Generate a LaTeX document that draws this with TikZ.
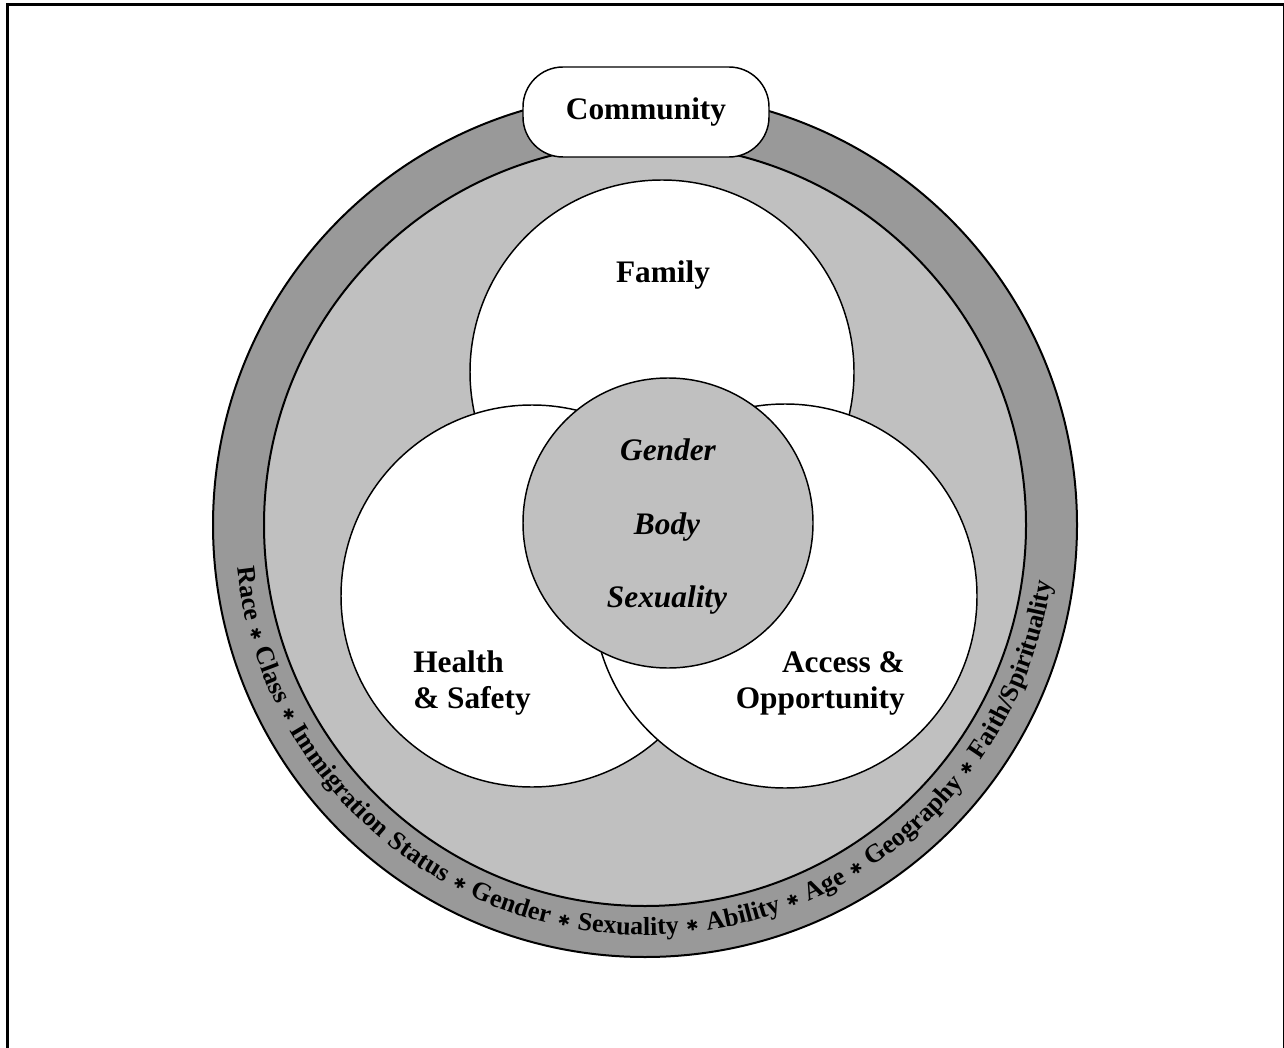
\documentclass[tikz,border=0pt]{standalone}
\usepackage{fontspec}
\setmainfont{Liberation Serif}
\newfontfamily\symfont{DejaVu Sans}
\usetikzlibrary{decorations.text}
\definecolor{ringdark}{RGB}{153,153,153}
\definecolor{ringlight}{RGB}{192,192,192}
\newcommand{\ringfont}{\bfseries\fontsize{19.5}{20}\selectfont}
\newcommand{\ringstar}{\raisebox{1pt}{\symfont\fontsize{11}{11}\selectfont ✱}}
\begin{document}
\begin{tikzpicture}[x=0.75pt,y=0.75pt,
  ringline/.style={line width=1.5pt},
  ringdisc/.style={circle, draw, ringline, inner sep=0pt},
  venn/.style={circle, draw, fill=white, line width=1.1pt, inner sep=0pt},
  lbl/.style={font=\fontsize{23.5}{27}\selectfont\bfseries, inner sep=0pt},
  ilbl/.style={font=\fontsize{23.5}{27}\selectfont\bfseries\itshape, inner sep=0pt},
  combox/.style={draw, fill=white, line width=1.1pt, rounded corners=30pt,
    minimum width=184.5pt, minimum height=67.5pt, inner sep=0pt,
    font=\fontsize{23.5}{27}\selectfont\bfseries}]
\useasboundingbox (0,0) rectangle (1284,-1048);
% frame
\draw[line width=2.25pt] (7.8,-1060) coordinate (fbl) -- (7.8,-5) coordinate (ftl)
  -- (1284.5,-5) coordinate (ftr) -- (1284.5,-1060) coordinate (fbr);
% rings
\coordinate (c) at (645,-525);
\node[ringdisc, fill=ringdark, minimum size=648pt] (outer) at (c) {};
\node[ringdisc, fill=ringlight, minimum size=571.5pt] (inner) at (c) {};
% venn circles
\node[venn, minimum size=288pt] (family) at (662,-372) {};
\node[venn, minimum size=286.5pt] (health) at (532,-596) {};
\node[venn, minimum size=288pt] (access) at (785,-596) {};
\node[venn, fill=ringlight, minimum size=217.5pt] (core) at (668,-523) {};
% labels
\node[lbl, anchor=base] (familylbl) at (663,-283) {Family};
\node[lbl, anchor=base west] (health1) at (413,-672) {Health};
\node[lbl, anchor=base west] (health2) at (413,-708) {\& Safety};
\node[lbl, anchor=base east] (access1) at (905,-672) {Access \&};
\node[lbl, anchor=base east] (access2) at (905,-708) {Opportunity};
\node[ilbl, anchor=base] (gender) at (668,-460) {Gender};
\node[ilbl, anchor=base] (body) at (667,-534) {Body};
\node[ilbl, anchor=base] (sexuality) at (667,-607) {Sexuality};
% community box
\node[combox] (community) at (646,-112) {Community};
% ring text
\path[decorate, decoration={text along path, text align={fit to path stretching spaces},
  text={|\ringfont|Race {\ringstar} Class {\ringstar} Immigration Status {\ringstar} Gender {\ringstar} Sexuality {\ringstar} Ability {\ringstar} Age {\ringstar} Geography {\ringstar} Faith/Spirituality}}]
  ([shift={(186:410)}]c) arc[start angle=186, end angle=352, radius=410];
\end{tikzpicture}
\end{document}
